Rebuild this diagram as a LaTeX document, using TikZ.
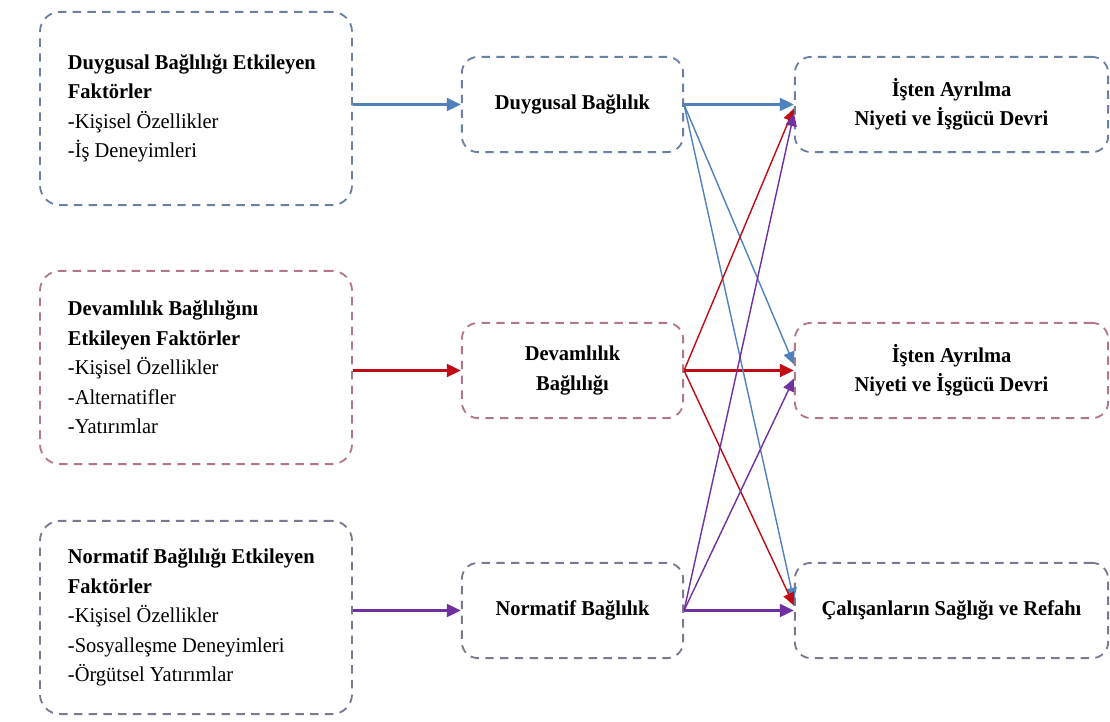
\documentclass[tikz,border=0pt]{standalone}
\usepackage{fontspec}
\setmainfont{Liberation Serif}[FakeStretch=0.97]
\usetikzlibrary{shapes,arrows.meta,calc}
\definecolor{duyBlue}{HTML}{4F81BD}
\definecolor{devRed}{HTML}{C00A14}
\definecolor{normPurple}{HTML}{7030A0}
\definecolor{duyEdge}{HTML}{6C80A6}
\definecolor{devEdge}{HTML}{B27887}
\definecolor{normEdge}{HTML}{7E7790}
\newcommand{\boxfont}{\fontsize{15}{21}\selectfont}
\tikzstyle{factor} = [draw, rectangle, rounded corners=0.5cm, dash pattern=on 6pt off 4.5pt, line width=1.3pt, minimum width=7.8cm, minimum height=4.83cm, text width=6.4cm, align=flush left, inner sep=0pt, font=\boxfont]
\tikzstyle{bond} = [draw, rectangle, rounded corners=0.4cm, dash pattern=on 6pt off 4.5pt, line width=1.3pt, minimum width=5.53cm, minimum height=2.38cm, align=center, font=\boxfont\bfseries]
\tikzstyle{outcome} = [bond, minimum width=7.83cm]
\tikzstyle{main} = [-{Triangle[length=10pt,width=9pt]}, line width=2pt]
\tikzstyle{cross} = [-{Triangle[length=9pt,width=8pt]}, line width=1pt]

\begin{document}
\begin{tikzpicture}[x=0.025cm, y=-0.025cm]
 \useasboundingbox (0,0) rectangle (1110,722);
 % nodes
    \node [factor, draw=duyEdge, name=duyFak] at (196,108.5) {\textbf{Duygusal Bağlılığı Etkileyen}\\\textbf{Faktörler}\\-Kişisel Özellikler\\-İş Deneyimleri};
    \node [factor, draw=devEdge, name=devFak] at (196,367.5) {\textbf{Devamlılık Bağlılığını}\\\textbf{Etkileyen Faktörler}\\-Kişisel Özellikler\\-Alternatifler\\-Yatırımlar};
    \node [factor, draw=normEdge, name=normFak] at (196,617.5) {\textbf{Normatif Bağlılığı Etkileyen}\\\textbf{Faktörler}\\-Kişisel Özellikler\\-Sosyalleşme Deneyimleri\\-Örgütsel Yatırımlar};
    \node [bond, draw=duyEdge, name=duyBag] at (572.5,104.5) {Duygusal Bağlılık};
    \node [bond, draw=devEdge, name=devBag] at (572.5,370.5) {Devamlılık\\Bağlılığı};
    \node [bond, draw=normEdge, name=normBag] at (572.5,610.5) {Normatif Bağlılık};
    \node [outcome, draw=duyEdge, name=sonuc1] at (951.5,104.5) {İşten Ayrılma\\Niyeti ve İşgücü Devri};
    \node [outcome, draw=devEdge, name=sonuc2] at (951.5,370.5) {İşten Ayrılma\\Niyeti ve İşgücü Devri};
    \node [outcome, draw=normEdge, name=sonuc3] at (951.5,610.5) {Çalışanların Sağlığı ve Refahı};
    % edges
    \draw [main, duyBlue] (duyFak.east |- duyBag.west) -- (duyBag.west);
    \draw [main, devRed] (devFak.east |- devBag.west) -- (devBag.west);
    \draw [main, normPurple] (normFak.east |- normBag.west) -- (normBag.west);
    \draw [main, duyBlue] (duyBag.east) -- (sonuc1.west);
    \draw [main, devRed] (devBag.east) -- (sonuc2.west);
    \draw [main, normPurple] (normBag.east) -- (sonuc3.west);
    % cross edges
    \draw [cross, duyBlue] (duyBag.east) -- ($(sonuc2.west)+(0,-6)$);
    \draw [cross, duyBlue] (duyBag.east) -- ($(sonuc3.west)+(0,-10)$);
    \draw [cross, devRed] (devBag.east) -- ($(sonuc1.west)+(0,4)$);
    \draw [cross, devRed] (devBag.east) -- ($(sonuc3.west)+(0,-5)$);
    \draw [cross, normPurple] (normBag.east) -- ($(sonuc1.west)+(0,9)$);
    \draw [cross, normPurple] (normBag.east) -- ($(sonuc2.west)+(0,8)$);
\end{tikzpicture}
\end{document}
